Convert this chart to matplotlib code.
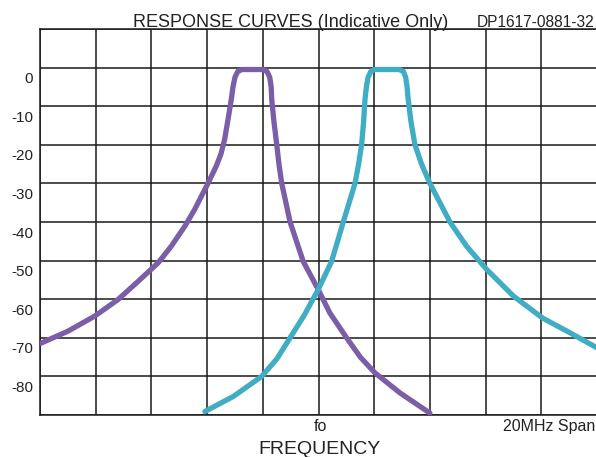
import matplotlib.pyplot as plt
from matplotlib.transforms import ScaledTranslation

# offset from fo in MHz, level in dB
freq_a = [-10.0, -9.0, -8.04, -7.2, -6.48, -5.76, -5.29, -4.8, -4.45, -3.97, -3.67, -3.5, -3.37,
          -3.25, -3.13, -3.07, -3.0, -2.9, -2.75, -2.4, -2.0, -1.85, -1.75, -1.7, -1.68,
          -1.6, -1.5, -1.42, -1.32, -1.02, -0.55, -0.01, 0.41, 1.01, 1.5, 2.03, 2.93, 4.0]
db_a = [-71.5, -68.3, -64.4, -60.1, -55.4, -50.6, -46.3, -41.1, -36.8, -30, -25.5, -22.3, -18.6,
        -13.5, -8.2, -5, -2.5, -1.0, -0.5, -0.5, -0.5, -1.0, -2.5, -5, -8.2,
        -14, -19.9, -25, -30, -40, -50.2, -57.5, -63.6, -70, -75, -79.1, -84.3, -89.5]

freq_b = [-4.08, -3.06, -2.04, -1.5, -1.02, -0.5, -0.01, 0.47, 0.89, 1.31, 1.44, 1.55, 1.62,
          1.67, 1.72, 1.78, 1.88, 2.0, 2.45, 2.9, 3.05, 3.13, 3.18, 3.22,
          3.32, 3.46, 3.7, 4.0, 4.72, 5.32, 6.04, 7.0, 8.05, 9.03, 10.0]
db_b = [-89.1, -85.2, -80, -75.5, -70, -64, -57.5, -50.2, -40, -30, -25, -19.9, -14,
        -8.2, -5, -2.5, -1.0, -0.5, -0.5, -0.5, -1.0, -2.5, -5, -8.2,
        -14, -19.9, -25, -30, -40, -46.3, -52.3, -59.2, -64.9, -68.7, -72.6]

y_ticks = [10, 0, -10, -20, -30, -40, -50, -60, -70, -80, -90]
y_labels = ['', '0', '-10', '-20', '-30', '-40', '-50', '-60', '-70', '-80', '']
x_ticks = [-10, -8, -6, -4, -2, 0, 2, 4, 6, 8, 10]

plt.rcParams['font.family'] = 'Liberation Sans'

W, H = 596, 457
fig = plt.figure(figsize=(W / 100, H / 100), dpi=100)
ax = fig.add_axes([40 / W, 1 - 415 / H, 557 / W, 386 / H])

ax.plot(freq_a, db_a, color='#7b5ea7', lw=3.8, solid_joinstyle='round', solid_capstyle='round', zorder=3)
ax.plot(freq_b, db_b, color='#40adc4', lw=3.8, solid_joinstyle='round', solid_capstyle='round', zorder=3)

ax.set_xlim(-10, 10)
ax.set_ylim(-90, 10)
ax.set_xticks(x_ticks)
ax.set_xticklabels([])
ax.set_yticks(y_ticks)
ax.set_yticklabels(y_labels, fontsize=11, color='#222222')
ax.tick_params(length=0, pad=5)
offset = ScaledTranslation(0, -10 / 100, fig.dpi_scale_trans)
for lab in ax.get_yticklabels():
    lab.set_transform(lab.get_transform() + offset)
ax.grid(True, color='#1a1a1a', lw=1.1)
for s in ax.spines.values():
    s.set_color('#1a1a1a')
    s.set_linewidth(1.1)

fig.text(290.5 / W, 1 - 27 / H, 'RESPONSE CURVES (Indicative Only)', fontsize=13,
         ha='center', va='baseline', color='#222222')
fig.text(595 / W, 1 - 27 / H, 'DP1617-0881-32', fontsize=11.2,
         ha='right', va='baseline', color='#222222')
fig.text(320 / W, 1 - 431 / H, 'fo', fontsize=11.5, ha='center', va='baseline', color='#222222')
fig.text(595 / W, 1 - 431 / H, '20MHz Span', fontsize=11.5, ha='right', va='baseline', color='#222222')
fig.text(320 / W, 1 - 454 / H, 'FREQUENCY', fontsize=14, ha='center', va='baseline', color='#222222')

fig.savefig('out.png', dpi=100)
